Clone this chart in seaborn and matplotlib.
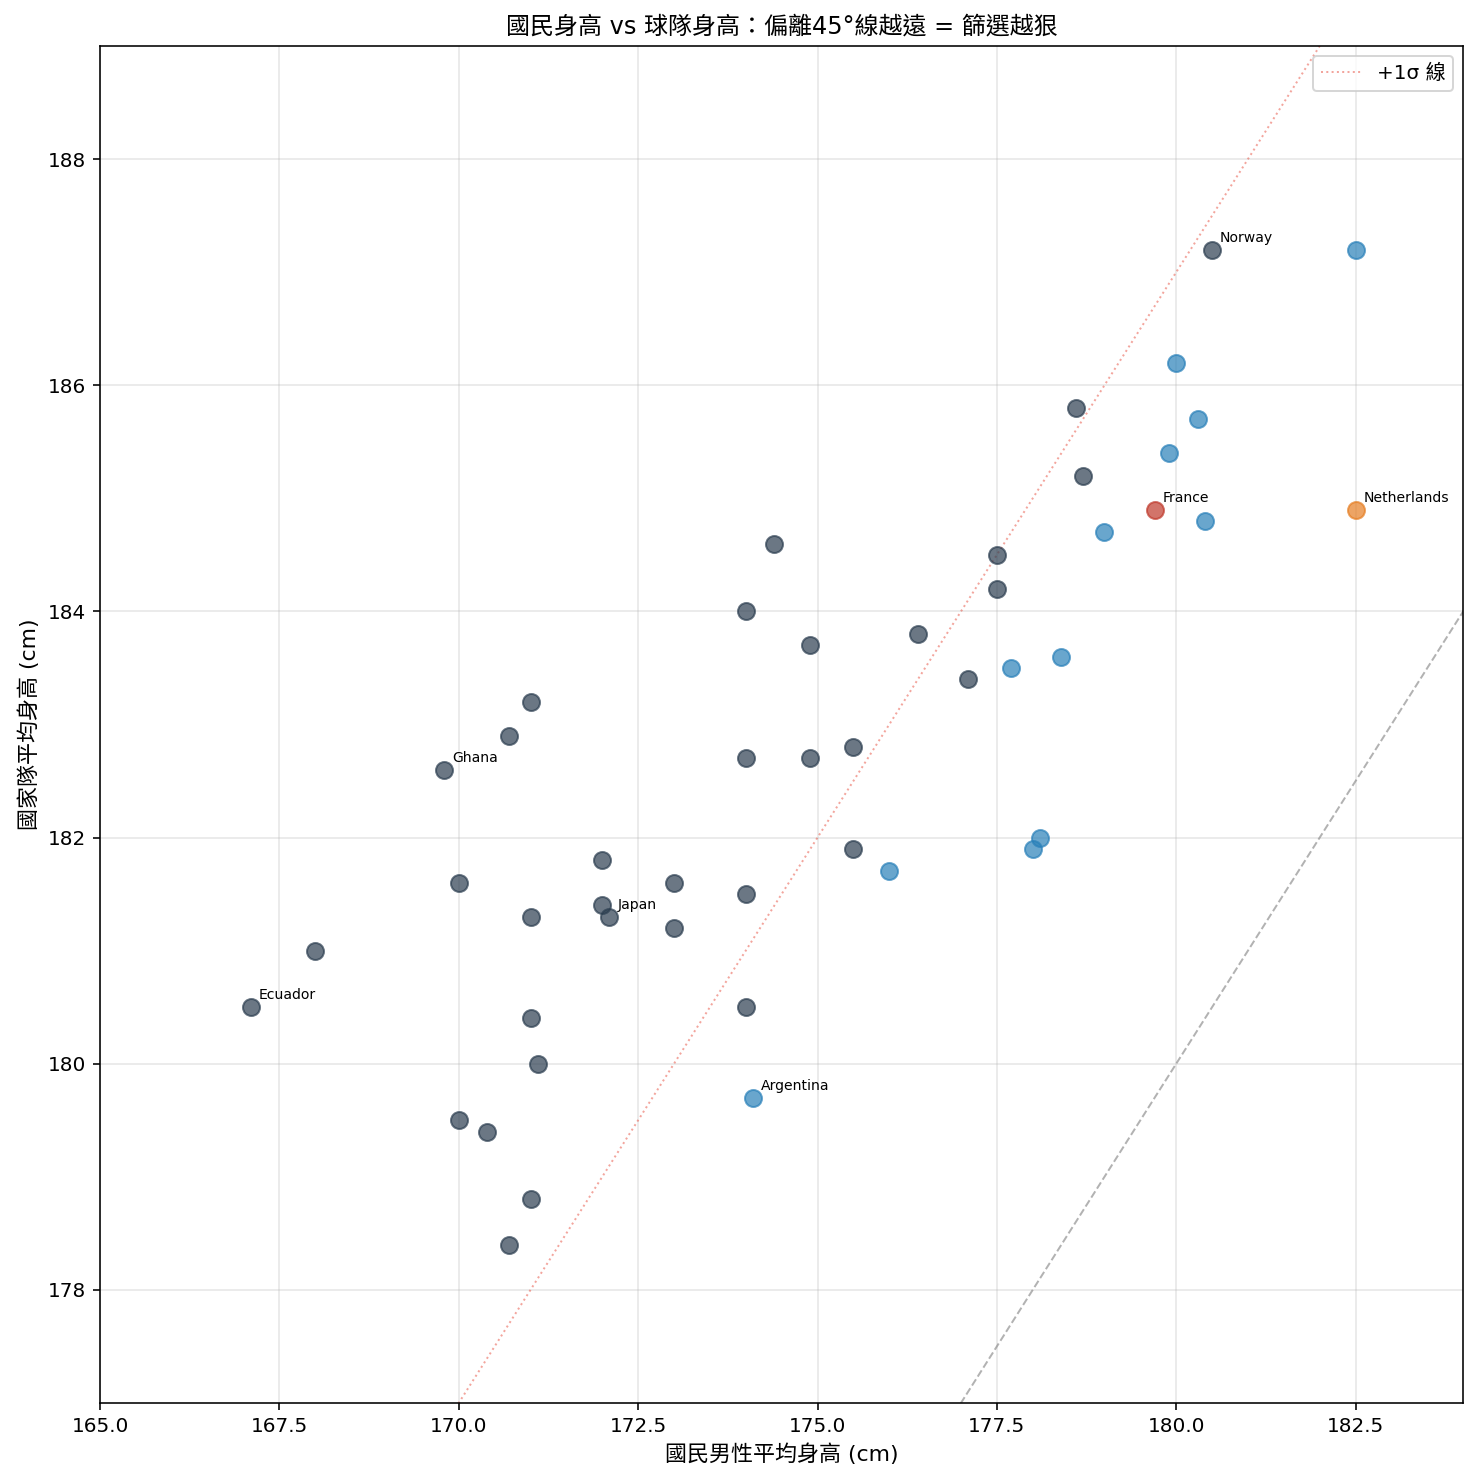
import matplotlib
matplotlib.use("Agg")
import matplotlib.pyplot as plt
import seaborn as sns
import numpy as np
import pandas as pd

plt.rcParams['font.family'] = ['DejaVu Sans', 'Noto Sans CJK TC']

# Data
gray_x = [180.5, 178.6, 178.7, 177.5, 177.5, 174.4, 174.0, 174.9, 176.4, 177.1,
          171.0, 170.7, 169.8, 174.0, 174.9, 175.5, 175.5, 172.0, 170.0, 173.0,
          174.0, 172.0, 172.1, 171.0, 173.0, 168.0, 167.1, 174.0, 171.0, 171.1,
          170.0, 170.4, 171.0, 170.7]
gray_y = [187.2, 185.8, 185.2, 184.5, 184.2, 184.6, 184.0, 183.7, 183.8, 183.4,
          183.2, 182.9, 182.6, 182.7, 182.7, 182.8, 181.9, 181.8, 181.6, 181.6,
          181.5, 181.4, 181.3, 181.3, 181.2, 181.0, 180.5, 180.5, 180.4, 180.0,
          179.5, 179.4, 178.8, 178.4]
blue_x = [182.5, 180.0, 180.3, 179.9, 179.0, 180.4, 177.7, 178.4, 178.1, 178.0, 176.0, 174.1]
blue_y = [187.2, 186.2, 185.7, 185.4, 184.7, 184.8, 183.5, 183.6, 182.0, 181.9, 181.7, 179.7]
france = (179.7, 184.9)
netherlands = (182.5, 184.9)

labels = {
    "Norway": (180.5, 187.2),
    "France": france,
    "Netherlands": netherlands,
    "Ghana": (169.8, 182.6),
    "Japan": (172.1, 181.3),
    "Ecuador": (167.1, 180.5),
    "Argentina": (174.1, 179.7),
}

sigma_offset = 7.0
xlim = (165, 184)
ylim = (177, 189)

DPI = 144
fig, ax = plt.subplots(figsize=(1478 / DPI, 1483 / DPI), dpi=DPI)

df_gray = pd.DataFrame({"x": gray_x, "y": gray_y})
df_blue = pd.DataFrame({"x": blue_x, "y": blue_y})
df_fr = pd.DataFrame({"x": [france[0]], "y": [france[1]]})
df_nl = pd.DataFrame({"x": [netherlands[0]], "y": [netherlands[1]]})

common = dict(s=72, alpha=0.7, linewidth=1.0, legend=False, ax=ax, zorder=3)
sns.scatterplot(data=df_gray, x="x", y="y", color="#2c3e50", edgecolor="#2c3e50", **common)
sns.scatterplot(data=df_blue, x="x", y="y", color="#2980b9", edgecolor="#2980b9", **common)
sns.scatterplot(data=df_fr, x="x", y="y", color="#c0392b", edgecolor="#c0392b", **common)
sns.scatterplot(data=df_nl, x="x", y="y", color="#e67e22", edgecolor="#e67e22", **common)

line = np.array([160, 195])
ax.plot(line, line, linestyle="--", color="gray", alpha=0.6, linewidth=1.0, zorder=2)
ax.plot(line, line + sigma_offset, linestyle=":", color="#e74c3c", alpha=0.5,
        linewidth=1.0, label="+1σ 線", zorder=2)

for name, (px, py) in labels.items():
    ax.annotate(name, (px, py), xytext=(4, 4), textcoords="offset points",
                fontsize=7)

ax.set_xlim(*xlim)
ax.set_ylim(*ylim)
ax.grid(True, alpha=0.3)
ax.set_xlabel("國民男性平均身高 (cm)", fontsize=11)
ax.set_ylabel("國家隊平均身高 (cm)", fontsize=11)
ax.set_title("國民身高 vs 球隊身高：偏離45°線越遠 = 篩選越狠", fontsize=12)
ax.tick_params(labelsize=10)
ax.legend(loc="upper right", fontsize=10)

fig.subplots_adjust(left=0.0677, right=0.99, top=0.969, bottom=0.054)
fig.savefig("out.png", dpi=DPI)
